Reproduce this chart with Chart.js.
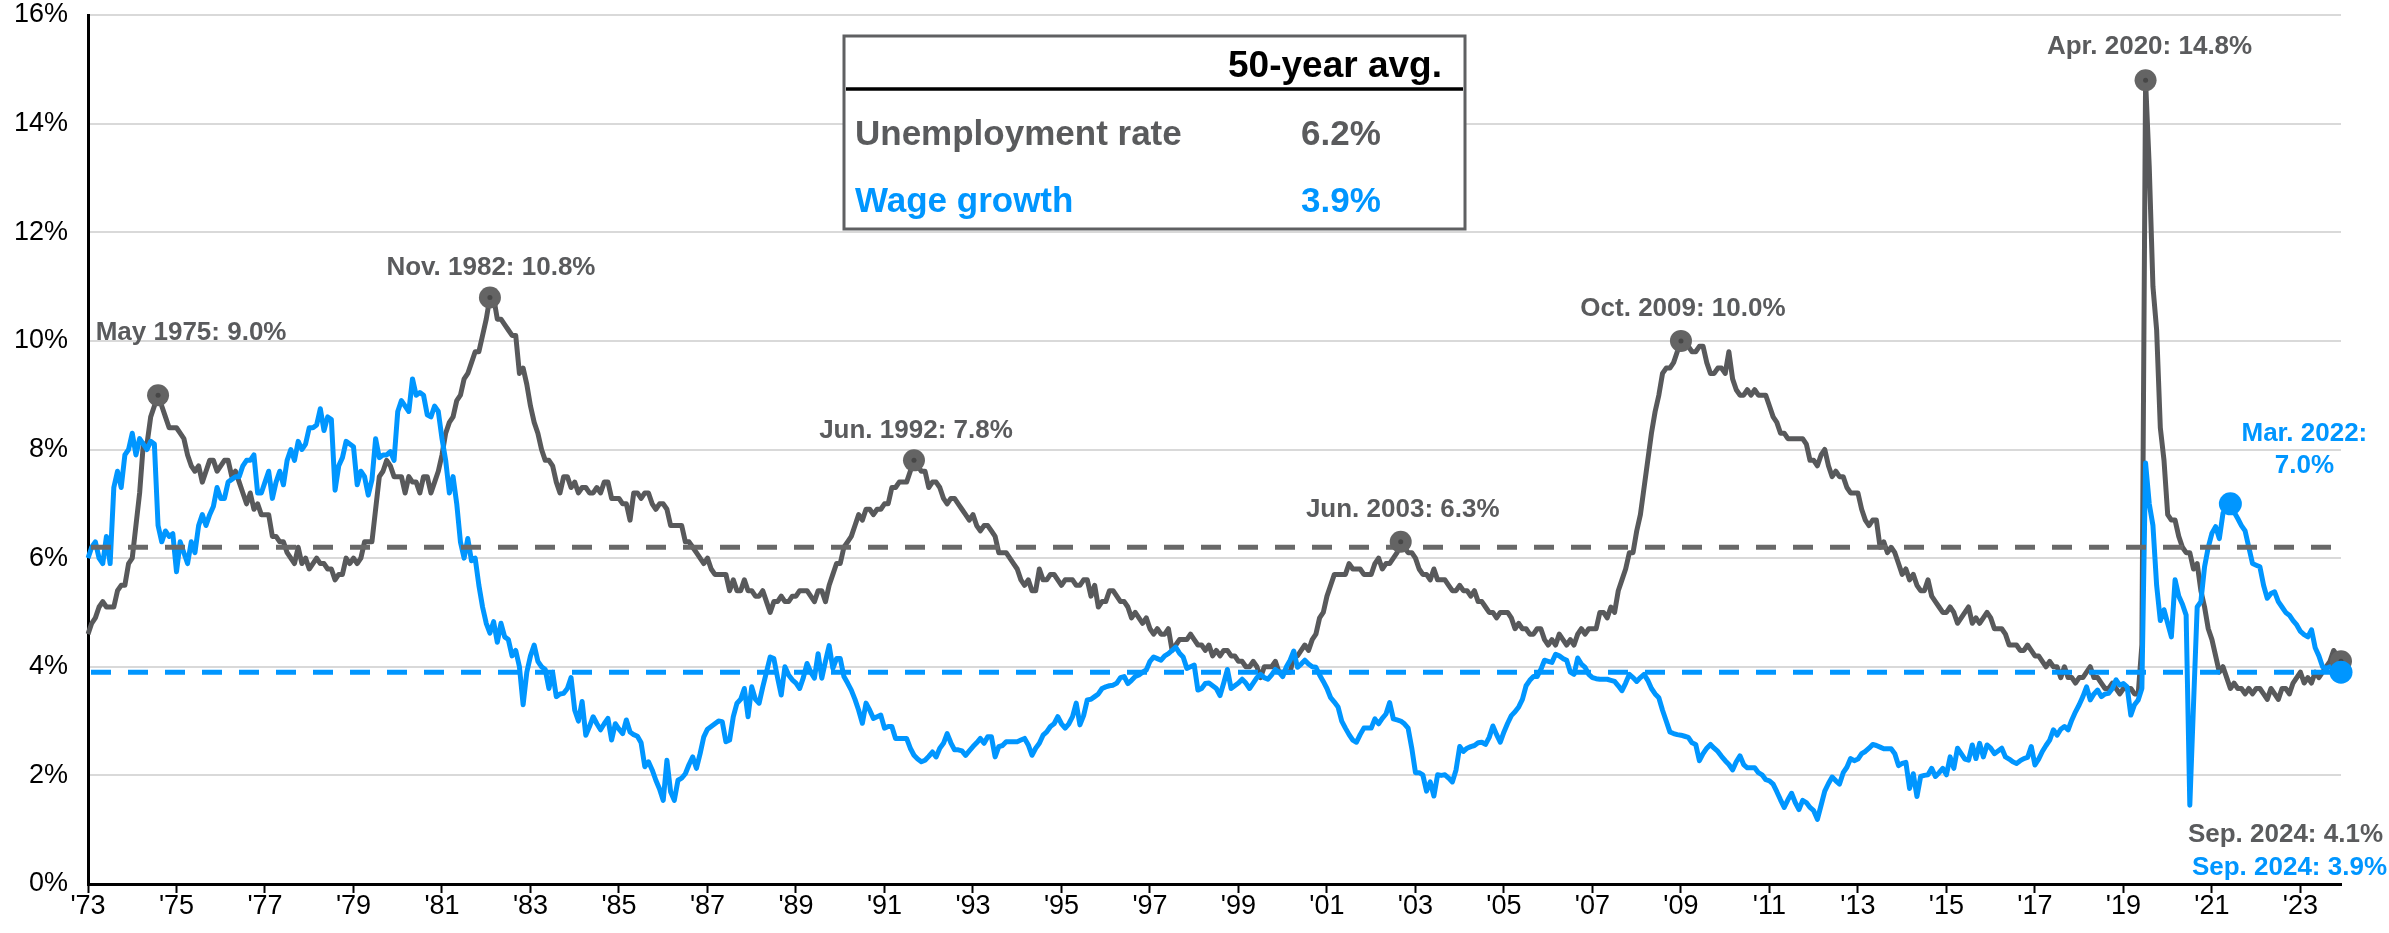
<!DOCTYPE html>
<html>
<head>
<meta charset="utf-8">
<script src="https://cdn.jsdelivr.net/npm/chart.js@4.4.1/dist/chart.umd.min.js"></script>
<style>
  html, body { margin: 0; padding: 0; background: #ffffff; }
  canvas { display: block; }
</style>
</head>
<body>
<canvas id="c" width="2389" height="933"></canvas>
<script>
// ---------------- DATA ----------------
// Monthly observations, Oct. 1973 – Sep. 2024 (612 months)
const startYear = 1973, startMonth = 10, monthCount = 612;
const categories = [];
for (let i = 0; i < monthCount; i++) {
  const m = (startMonth - 1 + i) % 12;
  const y = startYear + Math.floor((startMonth - 1 + i) / 12);
  categories.push(y + '-' + String(m + 1).padStart(2, '0'));
}

// x-axis tick labels, one every 24 months
const xTickLabels = ["'73","'75","'77","'79","'81","'83","'85","'87","'89","'91","'93","'95","'97",
                     "'99","'01","'03","'05","'07","'09","'11","'13","'15","'17","'19","'21","'23"];

// Unemployment rate (%)
const unemployment = [
  4.6,4.8,4.9,
  5.1,5.2,5.1,5.1,5.1,5.4,5.5,5.5,5.9,6.0,6.6,7.2,
  8.1,8.1,8.6,8.8,9.0,8.8,8.6,8.4,8.4,8.4,8.3,8.2,
  7.9,7.7,7.6,7.7,7.4,7.6,7.8,7.8,7.6,7.7,7.8,7.8,
  7.5,7.6,7.4,7.2,7.0,7.2,6.9,7.0,6.8,6.8,6.8,6.4,
  6.4,6.3,6.3,6.1,6.0,5.9,6.2,5.9,6.0,5.8,5.9,6.0,
  5.9,5.9,5.8,5.8,5.6,5.7,5.7,6.0,5.9,6.0,5.9,6.0,
  6.3,6.3,6.3,6.9,7.5,7.6,7.8,7.7,7.5,7.5,7.5,7.2,
  7.5,7.4,7.4,7.2,7.5,7.5,7.2,7.4,7.6,7.9,8.3,8.5,
  8.6,8.9,9.0,9.3,9.4,9.6,9.8,9.8,10.1,10.4,10.8,10.8,
  10.4,10.4,10.3,10.2,10.1,10.1,9.4,9.5,9.2,8.8,8.5,8.3,
  8.0,7.8,7.8,7.7,7.4,7.2,7.5,7.5,7.3,7.4,7.2,7.3,
  7.3,7.2,7.2,7.3,7.2,7.4,7.4,7.1,7.1,7.1,7.0,7.0,
  6.7,7.2,7.2,7.1,7.2,7.2,7.0,6.9,7.0,7.0,6.9,6.6,
  6.6,6.6,6.6,6.3,6.3,6.2,6.1,6.0,5.9,6.0,5.8,5.7,
  5.7,5.7,5.7,5.4,5.6,5.4,5.4,5.6,5.4,5.4,5.3,5.3,
  5.4,5.2,5.0,5.2,5.2,5.3,5.2,5.2,5.3,5.3,5.4,5.4,
  5.4,5.3,5.2,5.4,5.4,5.2,5.5,5.7,5.9,5.9,6.2,6.3,
  6.4,6.6,6.8,6.7,6.9,6.9,6.8,6.9,6.9,7.0,7.0,7.3,
  7.3,7.4,7.4,7.4,7.6,7.8,7.7,7.6,7.6,7.3,7.4,7.4,
  7.3,7.1,7.0,7.1,7.1,7.0,6.9,6.8,6.7,6.8,6.6,6.5,
  6.6,6.6,6.5,6.4,6.1,6.1,6.1,6.0,5.9,5.8,5.6,5.5,
  5.6,5.4,5.4,5.8,5.6,5.6,5.7,5.7,5.6,5.5,5.6,5.6,
  5.6,5.5,5.5,5.6,5.6,5.3,5.5,5.1,5.2,5.2,5.4,5.4,
  5.3,5.2,5.2,5.1,4.9,5.0,4.9,4.8,4.9,4.7,4.6,4.7,
  4.6,4.6,4.7,4.3,4.4,4.5,4.5,4.5,4.6,4.5,4.4,4.4,
  4.3,4.4,4.2,4.3,4.2,4.3,4.3,4.2,4.2,4.1,4.1,4.0,
  4.0,4.1,4.0,3.8,4.0,4.0,4.0,4.1,3.9,3.9,3.9,3.9,
  4.2,4.2,4.3,4.4,4.3,4.5,4.6,4.9,5.0,5.3,5.5,5.7,
  5.7,5.7,5.7,5.9,5.8,5.8,5.8,5.7,5.7,5.7,5.9,6.0,
  5.8,5.9,5.9,6.0,6.1,6.3,6.2,6.1,6.1,6.0,5.8,5.7,
  5.7,5.6,5.8,5.6,5.6,5.6,5.5,5.4,5.4,5.5,5.4,5.4,
  5.3,5.4,5.2,5.2,5.1,5.0,5.0,4.9,5.0,5.0,5.0,4.9,
  4.7,4.8,4.7,4.7,4.6,4.6,4.7,4.7,4.5,4.4,4.5,4.4,
  4.6,4.5,4.4,4.5,4.4,4.6,4.7,4.6,4.7,4.7,4.7,5.0,
  5.0,4.9,5.1,5.0,5.4,5.6,5.8,6.1,6.1,6.5,6.8,7.3,
  7.8,8.3,8.7,9.0,9.4,9.5,9.5,9.6,9.8,10.0,9.9,9.9,
  9.8,9.8,9.9,9.9,9.6,9.4,9.4,9.5,9.5,9.4,9.8,9.3,
  9.1,9.0,9.0,9.1,9.0,9.1,9.0,9.0,9.0,8.8,8.6,8.5,
  8.3,8.3,8.2,8.2,8.2,8.2,8.2,8.1,7.8,7.8,7.7,7.9,
  8.0,7.7,7.5,7.6,7.5,7.5,7.3,7.2,7.2,7.2,6.9,6.7,
  6.6,6.7,6.7,6.2,6.3,6.1,6.2,6.1,5.9,5.7,5.8,5.6,
  5.7,5.5,5.4,5.4,5.6,5.3,5.2,5.1,5.0,5.0,5.1,5.0,
  4.8,4.9,5.0,5.1,4.8,4.9,4.8,4.9,5.0,4.9,4.7,4.7,
  4.7,4.6,4.4,4.4,4.4,4.3,4.3,4.4,4.3,4.2,4.2,4.1,
  4.0,4.1,4.0,4.0,3.8,4.0,3.8,3.8,3.7,3.8,3.8,3.9,
  4.0,3.8,3.8,3.7,3.6,3.6,3.7,3.6,3.5,3.6,3.6,3.6,
  3.5,3.5,4.4,14.8,13.2,11.0,10.2,8.4,7.8,6.8,6.7,6.7,
  6.4,6.2,6.1,6.1,5.8,5.9,5.4,5.1,4.7,4.5,4.2,3.9,
  4.0,3.8,3.6,3.7,3.6,3.6,3.5,3.6,3.5,3.6,3.6,3.5,
  3.4,3.6,3.5,3.4,3.6,3.6,3.5,3.7,3.8,3.9,3.7,3.8,
  3.7,3.9,3.8,3.9,4.0,4.1,4.3,4.2,4.1
];

// Wage growth, y/y (%)
const wageGrowth = [
  6.0,6.2,6.3,
  6.0,5.9,6.4,5.9,7.3,7.6,7.3,7.9,8.0,8.3,7.9,8.2,
  8.1,8.0,8.15,8.1,6.6,6.3,6.5,6.4,6.45,5.75,6.3,6.1,
  5.9,6.3,6.1,6.6,6.8,6.6,6.8,6.95,7.3,7.1,7.1,7.4,
  7.45,7.5,7.5,7.7,7.8,7.8,7.9,7.2,7.2,7.4,7.6,7.1,
  7.4,7.6,7.35,7.8,8.0,7.8,8.15,8.0,8.1,8.4,8.4,8.45,
  8.75,8.35,8.6,8.55,7.25,7.7,7.85,8.15,8.1,8.05,7.35,7.6,
  7.5,7.16,7.44,8.2,7.85,7.9,7.9,7.96,7.8,8.7,8.9,8.8,
  8.7,9.3,9.0,9.05,9.0,8.64,8.6,8.8,8.7,8.2,7.8,7.2,
  7.5,7.0,6.3,6.0,6.36,5.95,6.0,5.5,5.1,4.8,4.62,4.83,
  4.45,4.8,4.55,4.5,4.2,4.3,4.0,3.3,3.9,4.2,4.4,4.1,
  4.0,3.95,3.6,3.9,3.45,3.5,3.51,3.6,3.8,3.2,3.0,3.36,
  2.74,2.9,3.08,2.95,2.84,2.95,3.05,2.65,2.95,2.85,2.77,3.02,
  2.8,2.75,2.72,2.6,2.16,2.25,2.1,1.91,1.75,1.54,2.28,1.7,
  1.54,1.91,1.95,2.03,2.2,2.34,2.13,2.4,2.71,2.85,2.9,2.95,
  3.0,2.99,2.62,2.65,3.08,3.33,3.4,3.6,3.08,3.63,3.4,3.33,
  3.63,3.9,4.18,4.15,3.8,3.48,4.0,3.85,3.76,3.7,3.6,3.8,
  4.06,3.9,3.79,4.24,3.79,4.1,4.39,3.97,4.15,4.15,3.82,3.7,
  3.57,3.4,3.2,2.96,3.33,3.2,3.05,3.08,3.11,2.87,2.9,2.9,
  2.68,2.68,2.68,2.68,2.5,2.37,2.3,2.25,2.28,2.35,2.43,2.34,
  2.5,2.59,2.77,2.6,2.47,2.47,2.45,2.37,2.45,2.53,2.6,2.68,
  2.59,2.71,2.71,2.34,2.53,2.55,2.62,2.62,2.62,2.62,2.65,2.68,
  2.56,2.37,2.5,2.59,2.74,2.8,2.9,2.95,3.08,2.95,2.87,2.95,
  3.08,3.33,2.93,3.1,3.39,3.4,3.45,3.5,3.6,3.63,3.65,3.66,
  3.7,3.8,3.82,3.69,3.75,3.82,3.85,3.9,3.94,4.1,4.18,4.15,
  4.12,4.2,4.24,4.3,4.36,4.25,4.18,3.97,4.0,4.03,3.57,3.6,
  3.69,3.7,3.65,3.6,3.47,3.7,3.95,3.6,3.65,3.7,3.77,3.7,
  3.6,3.7,3.8,3.86,3.8,3.77,3.85,3.95,3.9,3.82,4.0,4.12,
  4.29,3.99,4.05,4.12,4.05,4.0,3.99,3.85,3.73,3.6,3.43,3.35,
  3.26,3.0,2.87,2.75,2.65,2.61,2.75,2.87,2.87,2.87,3.04,2.95,
  3.05,3.13,3.34,3.04,3.02,3.0,2.95,2.87,2.5,2.05,2.05,2.01,
  1.71,1.88,1.62,2.01,2.0,2.01,1.95,1.88,2.1,2.53,2.44,2.5,
  2.53,2.55,2.6,2.61,2.57,2.7,2.91,2.75,2.61,2.8,2.96,3.1,
  3.17,3.26,3.4,3.65,3.75,3.82,3.82,3.95,4.12,4.1,4.08,4.23,
  4.2,4.15,4.12,3.9,3.86,4.16,4.05,3.99,3.86,3.8,3.78,3.77,
  3.77,3.77,3.75,3.73,3.65,3.56,3.7,3.86,3.8,3.73,3.8,3.86,
  3.75,3.6,3.5,3.43,3.2,3.0,2.8,2.77,2.75,2.74,2.72,2.7,
  2.6,2.57,2.27,2.4,2.5,2.57,2.5,2.44,2.35,2.27,2.2,2.1,
  2.25,2.36,2.2,2.14,2.14,2.14,2.05,2.01,1.92,1.9,1.84,1.7,
  1.55,1.41,1.55,1.67,1.5,1.37,1.54,1.5,1.41,1.35,1.19,1.45,
  1.71,1.85,1.97,1.9,1.84,2.05,2.15,2.31,2.27,2.3,2.4,2.44,
  2.5,2.57,2.55,2.52,2.49,2.49,2.49,2.4,2.18,2.22,2.24,1.76,
  2.03,1.61,1.98,2.0,2.01,2.13,1.98,2.05,2.13,2.01,2.34,2.13,
  2.5,2.4,2.3,2.28,2.56,2.31,2.59,2.34,2.56,2.5,2.4,2.45,
  2.5,2.34,2.3,2.25,2.22,2.27,2.31,2.33,2.53,2.19,2.3,2.44,
  2.55,2.65,2.84,2.74,2.85,2.9,2.84,3.02,3.17,3.3,3.45,3.63,
  3.39,3.5,3.57,3.45,3.5,3.51,3.6,3.76,3.66,3.69,3.63,3.11,
  3.3,3.39,3.6,7.75,7.0,6.6,5.5,4.85,5.05,4.8,4.55,5.6,
  5.3,5.15,4.95,1.45,3.3,5.1,5.2,5.84,6.2,6.46,6.58,6.36,
  6.83,6.9,7.0,6.85,6.73,6.6,6.5,6.2,5.9,5.87,5.84,5.5,
  5.26,5.35,5.38,5.2,5.1,5.0,4.95,4.85,4.77,4.65,4.59,4.55,
  4.68,4.35,4.2,4.0,3.97,4.0,3.97,3.95,3.9
];

// 50-year averages
const avgUnemployment = 6.2;
const avgWage = 3.9;

// Highlighted points: [month index, label]
const unemploymentNotes = [
  [19,  'May 1975: 9.0%'],
  [109, 'Nov. 1982: 10.8%'],
  [224, 'Jun. 1992: 7.8%'],
  [356, 'Jun. 2003: 6.3%'],
  [432, 'Oct. 2009: 10.0%'],
  [558, 'Apr. 2020: 14.8%'],
  [611, 'Sep. 2024: 4.1%']
];
const wageNotes = [
  [581, 'Mar. 2022:|7.0%'],
  [611, 'Sep. 2024: 3.9%']
];

// Table text
const tableHeader = '50-year avg.';
const tableRowNames = ['Unemployment rate', 'Wage growth'];

// ---------------- STYLE ----------------
const FONT = "'Liberation Sans', Arial, Helvetica, sans-serif";
const GRAY = '#58595b';
const GRAY_DASH = '#686868';
const GRAY_TEXT = '#5a5b5d';
const BLUE = '#0096ff';

// Narrow font for axis ticks if installed
const probe = document.createElement('canvas').getContext('2d');
probe.font = "28px 'Liberation Sans Narrow', monospace";
const wNarrow = probe.measureText('16%88').width;
probe.font = '28px monospace';
const wMono = probe.measureText('16%88').width;
const hasNarrow = Math.abs(wNarrow - wMono) > 0.5;
const TICK_FONT = hasNarrow ? "'Liberation Sans Narrow', 'Liberation Sans', Arial, sans-serif" : FONT;
const TICK_SIZE = hasNarrow ? 29 : 27;

// label placement relative to marker: [dx, dy, align]
const unempLabelLayout = [
  [33, -62, 'center'],
  [1, -30, 'center'],
  [2, -30, 'center'],
  [2, -32, 'center'],
  [2, -32, 'center'],
  [4, -33, 'center'],
  [42, 174, 'right']
];
const wageLabelLayout = [
  [74, -70, 'center'],
  [46, 196, 'right']
];

const overlay = {
  id: 'overlay',
  afterDatasetsDraw(chart) {
    const { ctx, chartArea: a, scales: { y } } = chart;
    ctx.save();
    ctx.lineWidth = 5;
    ctx.setLineDash([20, 17]);
    ctx.lineCap = 'butt';
    [[avgUnemployment, GRAY_DASH], [avgWage, BLUE]].forEach(([v, c]) => {
      const py = y.getPixelForValue(v);
      ctx.strokeStyle = c;
      ctx.beginPath();
      ctx.moveTo(a.left + 3, py);
      ctx.lineTo(a.right, py);
      ctx.stroke();
    });
    ctx.restore();
  },
  afterDraw(chart) {
    const { ctx, scales: { x, y } } = chart;
    ctx.save();
    // markers
    unemploymentNotes.forEach(([i]) => {
      const px = x.getPixelForValue(i), py = y.getPixelForValue(unemployment[i]);
      ctx.fillStyle = '#646464';
      ctx.beginPath(); ctx.arc(px, py, 11, 0, Math.PI * 2); ctx.fill();
      ctx.fillStyle = '#474747';
      ctx.beginPath(); ctx.arc(px, py, 2.5, 0, Math.PI * 2); ctx.fill();
    });
    wageNotes.forEach(([i]) => {
      const px = x.getPixelForValue(i), py = y.getPixelForValue(wageGrowth[i]);
      ctx.fillStyle = BLUE;
      ctx.beginPath(); ctx.arc(px, py, 11.5, 0, Math.PI * 2); ctx.fill();
    });
    // labels
    ctx.font = 'bold 26px ' + FONT;
    ctx.textBaseline = 'middle';
    const drawNote = (i, text, series, layout, color) => {
      const px = x.getPixelForValue(i), py = y.getPixelForValue(series[i]);
      ctx.fillStyle = color;
      ctx.textAlign = layout[2];
      text.split('|').forEach((line, k) => {
        ctx.fillText(line, px + layout[0], py + layout[1] + k * 32);
      });
    };
    unemploymentNotes.forEach(([i, t], k) => drawNote(i, t, unemployment, unempLabelLayout[k], GRAY_TEXT));
    wageNotes.forEach(([i, t], k) => drawNote(i, t, wageGrowth, wageLabelLayout[k], BLUE));

    // table box
    const bx = 844, by = 36, bw = 621, bh = 193;
    ctx.fillStyle = '#ffffff';
    ctx.fillRect(bx, by, bw, bh);
    ctx.lineWidth = 3;
    ctx.strokeStyle = '#5f6062';
    ctx.strokeRect(bx, by, bw, bh);
    ctx.strokeStyle = '#000000';
    ctx.lineWidth = 3.5;
    ctx.beginPath(); ctx.moveTo(bx + 2, 89); ctx.lineTo(bx + bw - 2, 89); ctx.stroke();
    ctx.textBaseline = 'middle';
    ctx.textAlign = 'center';
    ctx.fillStyle = '#000000';
    ctx.font = 'bold 37px ' + FONT;
    ctx.fillText(tableHeader, 1335, 67);
    ctx.font = 'bold 35px ' + FONT;
    const rowVals = [avgUnemployment, avgWage];
    const rowColors = [GRAY_TEXT, BLUE];
    const rowY = [135, 202];
    tableRowNames.forEach((name, k) => {
      ctx.fillStyle = rowColors[k];
      ctx.textAlign = 'left';
      ctx.fillText(name, 855, rowY[k]);
      ctx.textAlign = 'center';
      ctx.fillText(rowVals[k].toFixed(1) + '%', 1341, rowY[k]);
    });
    ctx.restore();
  }
};

new Chart(document.getElementById('c').getContext('2d'), {
  type: 'line',
  data: {
    labels: categories,
    datasets: [
      { label: 'Wage growth', data: wageGrowth, borderColor: BLUE, borderWidth: 5,
        pointRadius: 0, tension: 0, borderJoinStyle: 'round', order: 0 },
      { label: 'Unemployment rate', data: unemployment, borderColor: GRAY, borderWidth: 5,
        pointRadius: 0, tension: 0, borderJoinStyle: 'round', order: 1 }
    ]
  },
  options: {
    responsive: false,
    animation: false,
    devicePixelRatio: 1,
    layout: { padding: { top: 15, right: 48, left: 0, bottom: 0 } },
    plugins: { legend: { display: false }, tooltip: { enabled: false } },
    scales: {
      x: {
        type: 'category',
        offset: false,
        grid: {
          display: true, drawOnChartArea: false, drawTicks: true, tickLength: 9, tickWidth: 2,
          tickColor: (c) => (c.index % 24 === 0 ? '#000000' : 'rgba(0,0,0,0)')
        },
        border: { display: true, color: '#000000', width: 3 },
        ticks: {
          autoSkip: false, maxRotation: 0, minRotation: 0, padding: -3,
          color: '#000000', font: { family: TICK_FONT, size: TICK_SIZE },
          callback: (v, i) => (i % 24 === 0 ? xTickLabels[i / 24] : '')
        },
        afterFit: (s) => { s.height = 49; }
      },
      y: {
        min: 0, max: 16,
        ticks: {
          stepSize: 2, padding: 20, color: '#000000', font: { family: TICK_FONT, size: TICK_SIZE },
          callback: (v) => v + '%'
        },
        grid: {
          drawTicks: false, lineWidth: 2,
          color: (c) => (c.tick && c.tick.value === 0 ? 'rgba(0,0,0,0)' : '#d9d9d9')
        },
        border: { color: '#000000', width: 3 },
        afterFit: (s) => { s.width = 88; s.paddingTop = 0; s.paddingBottom = 0; }
      }
    }
  },
  plugins: [overlay]
});
</script>
</body>
</html>
